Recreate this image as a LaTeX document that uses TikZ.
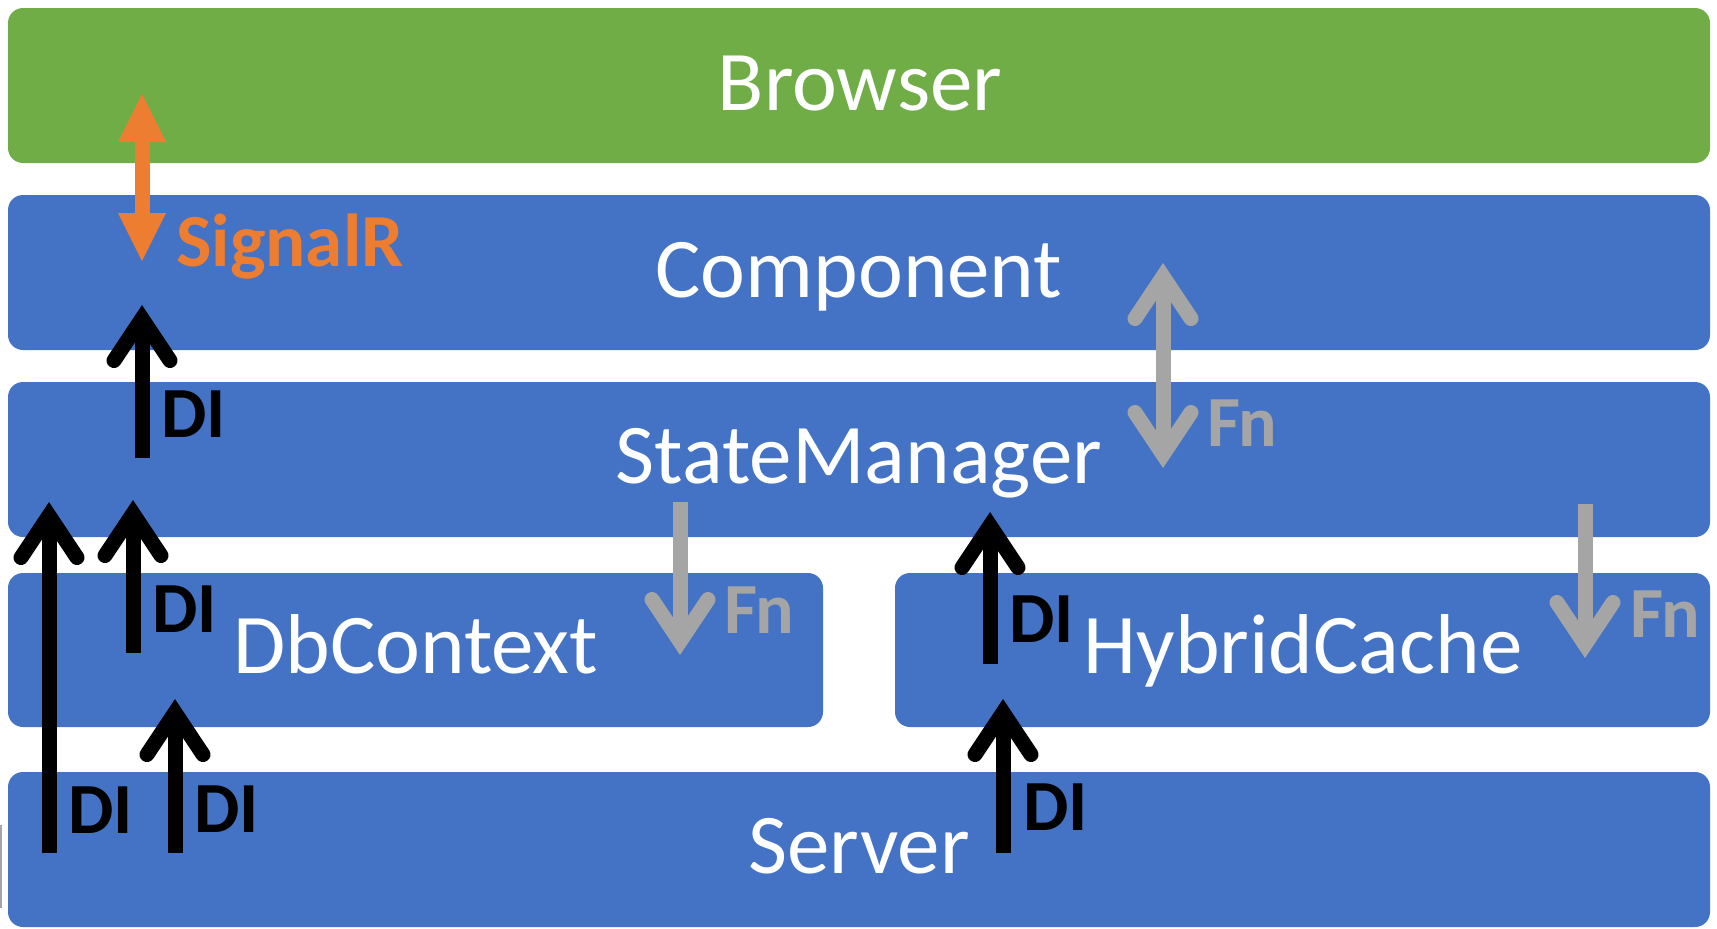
\documentclass[tikz,border=0pt]{standalone}
\usepackage{fontspec}
\setmainfont{Carlito}
\usetikzlibrary{arrows.meta}
\definecolor{browsergreen}{HTML}{70AD47}
\definecolor{layerblue}{HTML}{4472C4}
\definecolor{signalorange}{HTML}{ED7D31}
\definecolor{fngray}{HTML}{A5A5A5}
\begin{document}
\begin{tikzpicture}[x=1pt,y=-1pt,
  layer/.style={rounded corners=15pt, inner sep=0pt, outer sep=0pt, draw=none,
    anchor=north west, minimum height=155pt},
  layertext/.style={anchor=base, inner sep=0pt, text=white,
    font=\fontsize{85}{100}\selectfont},
  tag/.style={anchor=base west, inner sep=0pt,
    font=\bfseries\fontsize{72}{86}\selectfont},
  barb/.style={line width=15pt,
    -{Straight Barb[length=42pt,width=56pt,line cap=round,line join=miter]}},
  dibarb/.style={barb, draw=black},
  fnbarb/.style={barb, draw=fngray},
  fnboth/.style={line width=15pt, draw=fngray,
    {Straight Barb[length=42pt,width=56pt,line cap=round,line join=miter]}-{Straight Barb[length=42pt,width=56pt,line cap=round,line join=miter]}},
  sigboth/.style={line width=15pt, draw=signalorange,
    {Triangle[length=48pt,width=48pt,line width=0pt]}-{Triangle[length=48pt,width=48pt,line width=0pt]}}
]
\useasboundingbox (0,0) rectangle (1717,929);
\fill[white] (0,0) rectangle (1717,929);

% layers
\node[layer, fill=browsergreen, minimum width=1702pt] (browser) at (8,8) {};
\node[layer, fill=layerblue, minimum width=1702pt] (component) at (8,195) {};
\node[layer, fill=layerblue, minimum width=1702pt] (statemgr) at (8,382) {};
\node[layer, fill=layerblue, minimum width=815pt, minimum height=154pt] (dbctx) at (8,573) {};
\node[layer, fill=layerblue, minimum width=815pt, minimum height=154pt] (hcache) at (895,573) {};
\node[layer, fill=layerblue, minimum width=1702pt] (server) at (8,772) {};

% layer names
\node[layertext] (browserlbl) at (860,110) {Browser};
\node[layertext] (componentlbl) at (859,297) {Component};
\node[layertext] (statemgrlbl) at (859,483) {StateManager};
\node[layertext] (dbctxlbl) at (416,673) {DbContext};
\node[layertext] (hcachelbl) at (1303,673) {HybridCache};
\node[layertext] (serverlbl) at (859,873) {Server};

% stray edge mark at the left border
\draw[fngray, line width=2pt] (1,825) -- (1,908);

% SignalR link between browser and component
\coordinate (sigB) at (142,261);
\coordinate (sigT) at (142,94);
\draw[sigboth] (sigB) -- (sigT);
\node[tag, text=signalorange, font=\bfseries\fontsize{75}{90}\selectfont] (siglbl) at (176,266) {SignalR};

% dependency injection arrows
\coordinate (diAs) at (142,458); \coordinate (diAt) at (142,305);
\coordinate (diBs) at (49,853);  \coordinate (diBt) at (49,502);
\coordinate (diCs) at (133,653); \coordinate (diCt) at (133,500);
\coordinate (diDs) at (175,853); \coordinate (diDt) at (175,699);
\coordinate (diEs) at (990,664); \coordinate (diEt) at (990,512);
\coordinate (diFs) at (1003,853); \coordinate (diFt) at (1003,699);
\draw[dibarb] (diAs) -- (diAt);
\draw[dibarb] (diBs) -- (diBt);
\draw[dibarb] (diCs) -- (diCt);
\draw[dibarb] (diDs) -- (diDt);
\draw[dibarb] (diEs) -- (diEt);
\draw[dibarb] (diFs) -- (diFt);
\node[tag] (diAl) at (161,437) {DI};
\node[tag] (diBl) at (68,833) {DI};
\node[tag] (diCl) at (152,632) {DI};
\node[tag] (diDl) at (194,832) {DI};
\node[tag] (diEl) at (1009,642) {DI};
\node[tag] (diFl) at (1023,830) {DI};

% function calls
\coordinate (fnGt) at (1163,263); \coordinate (fnGb) at (1163,468);
\coordinate (fnHs) at (680,502);  \coordinate (fnHt) at (680,655);
\coordinate (fnIs) at (1585,504); \coordinate (fnIt) at (1585,658);
\draw[fnboth] (fnGt) -- (fnGb);
\draw[fnbarb] (fnHs) -- (fnHt);
\draw[fnbarb] (fnIs) -- (fnIt);
\node[tag, text=fngray] (fnGl) at (1207,446) {Fn};
\node[tag, text=fngray] (fnHl) at (724,633) {Fn};
\node[tag, text=fngray] (fnIl) at (1630,637) {Fn};
\end{tikzpicture}
\end{document}
